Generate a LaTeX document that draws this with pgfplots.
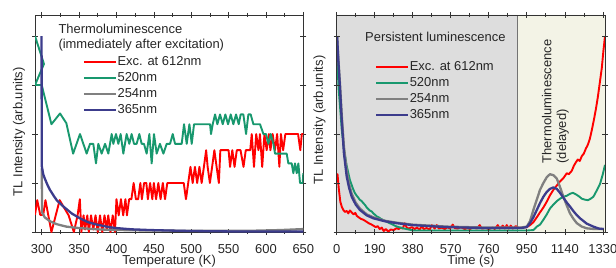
\documentclass[border=0pt]{standalone}
\usepackage{fontspec}
\setmainfont{Liberation Sans}
\usepackage{pgfplots}
\pgfplotsset{compat=1.18}
\definecolor{cred}{RGB}{255,0,0}
\definecolor{cgreen}{RGB}{24,152,110}
\definecolor{cgray}{RGB}{128,128,128}
\definecolor{cnavy}{RGB}{60,60,140}
\definecolor{bggray}{RGB}{221,221,221}
\definecolor{bgbeige}{RGB}{243,243,230}
\pgfplotsset{
  myaxis/.style={
    scale only axis, width=268.3bp, height=217bp, anchor=south west,
    ymin=0, ymax=4.43, ytick={0,1,2,3,4}, yticklabels={},
    axis line style={black!80, line width=0.6bp},
    every tick/.style={black!80, line width=0.6bp},
    tick align=center, major tick length=6bp, minor tick length=4bp,
    minor x tick num=1,
    /pgf/number format/assume math mode=true,
    /pgf/number format/1000 sep={},
    xticklabel style={anchor=base, yshift=-18bp, text=black!85},
    xlabel style={at={(axis description cs:0.5,0)}, anchor=base, yshift=-32.5bp, text=black!85},
    ylabel style={rotate=0, anchor=base, text=black!85},
    clip=true,
    legend cell align=left,
  },
  redl/.style={cred, line width=1.9bp, line join=round},
  greenl/.style={cgreen, line width=1.9bp, line join=round},
  grayl/.style={cgray, line width=2.3bp, line join=round},
  navyl/.style={cnavy, line width=2.3bp, line join=round},
}
\begin{document}
\begin{tikzpicture}[x=1bp,y=1bp,font=\fontsize{13}{15}\selectfont]
\begin{axis}[myaxis, at={(35bp,35bp)},
  xmin=291, xmax=650, xtick={300,350,...,650},
  xlabel={Temperature (K)}, ylabel={TL Intensity (arb.units)},
  ylabel style={at={(axis description cs:-0.047,0.462)}},
  legend image code/.code={\draw[#1] (0bp,0bp) -- (32bp,0bp);},
  legend style={draw=none, fill=none, inner sep=0pt, outer sep=0pt, column sep=0pt, row sep=0pt,
    at={(axis description cs:0.178,0.8217)}, anchor=north west,
    nodes={inner xsep=0.5bp, inner ysep=2bp, text height=9.5bp, text depth=2.5bp, text=black!85}},
]
\addplot[redl] coordinates {
(291,0.35)(294,0.65)(298,0.35)(302,0.35)(305,0.65)(313,0.0)(324,0.65)(336,0.34)(343,0.0)(348,0.34)(351,0.67)(353,0.0)(356,0.34)(358,0.05)(361,0.34)(363,0.0)(366,0.34)(369,0.05)(372,0.34)(375,0.0)(378,0.34)(381,0.0)(384,0.34)(387,0.05)(389,0.34)(392,0.0)(395,0.34)(398,0.0)(400,0.67)(403,0.34)(406,0.67)(409,0.34)(412,0.67)(414,0.34)(417,0.67)(420,0.67)(423,1.0)(426,0.67)(429,0.67)(432,1.0)(434,0.67)(437,1.0)(440,1.0)(442,0.67)(445,1.0)(448,0.67)(450,1.0)(453,0.67)(456,1.0)(459,0.67)(462,1.0)(465,0.67)(468,1.0)(475,1.0)(485,1.0)(490,1.0)(493,0.67)(496,1.0)(499,1.33)(502,1.0)(505,1.33)(508,1.0)(511,1.33)(514,1.0)(517,1.33)(520,1.67)(522,1.33)(525,1.0)(528,1.33)(531,1.67)(534,1.33)(537,1.0)(539,1.67)(550,1.67)(552,1.33)(555,1.67)(558,1.33)(561,1.67)(566,1.67)(570,1.33)(573,1.67)(579,1.67)(581,2.0)(584,1.33)(587,2.0)(590,1.67)(592,2.0)(595,1.33)(598,2.0)(601,1.67)(604,2.0)(606,1.67)(609,2.0)(612,1.67)(615,2.0)(618,1.33)(620,2.0)(623,1.67)(626,2.0)(629,2.0)(632,2.0)(636,2.0)(640,2.0)(643,2.0)(646,1.67)(648,2.0)(650,2.0)
};
\addlegendentry{Exc. at 612nm}
\addplot[greenl] coordinates {
(291,4.0)(303,3.43)(291,3.0)(300,3.0)(313,2.2)(324.5,2.42)(333,2.22)(342,1.6)(351.2,2.0)(355.7,1.8)(360.1,1.6)(364.6,1.8)(369,1.8)(372.6,1.4)(375.7,1.8)(380.2,1.6)(384.7,1.8)(389.1,1.6)(393.6,2.0)(395.8,1.8)(399.4,2.0)(402.5,1.8)(405.6,2.0)(409.2,1.6)(413.6,2.0)(417.2,1.8)(420.3,2.0)(423.5,1.8)(427,1.8)(430.6,2.0)(433.7,1.8)(436.8,1.8)(440.4,1.6)(444,2.0)(447.1,1.4)(450.2,2.0)(453.8,1.6)(458.2,1.8)(462.8,1.6)(467.2,1.8)(471.7,1.8)(475.3,2.0)(478.4,1.8)(487.3,1.8)(490.4,2.2)(494,1.8)(497.6,2.2)(500.7,1.8)(503.8,2.2)(507.4,2.2)(525.2,2.2)(526.5,2.0)(528.8,2.2)(531.9,2.4)(535,2.2)(538.6,2.4)(542.2,2.2)(545.7,2.4)(549.3,2.2)(552.9,2.4)(556.4,2.2)(560,2.4)(563.6,2.2)(566.2,2.4)(569.8,2.4)(573.4,2.0)(576.5,2.4)(579.6,2.4)(583.2,2.2)(592.1,2.2)(596.6,2.0)(600.1,2.0)(603.3,1.8)(606.4,2.0)(610,1.8)(612.2,1.6)(627.8,1.6)(630,1.4)(634.5,1.4)(636.7,1.2)(638.9,1.4)(641.2,1.2)(643.4,1.4)(645.6,1.0)(649.2,1.0)(650,1.2)
};
\addlegendentry{520nm}
\addplot[grayl] coordinates {
(300,1.3)(300.5,0.4)(304,0.3)(311,0.22)(320,0.16)(333,0.11)(350,0.08)(380,0.05)(420,0.035)(500,0.025)(580,0.025)(620,0.04)(650,0.06)
};
\addlegendentry{254nm}
\addplot[navyl] coordinates {
(299.8,4.0)(300,1.35)(302,1.18)(304.4,1.08)(308,0.95)(311,0.86)(316,0.74)(320,0.65)(329,0.52)(340,0.38)(351,0.28)(362,0.2)(374,0.15)(390,0.1)(400,0.08)(420,0.055)(445,0.04)(470,0.03)(500,0.02)(550,0.012)(600,0.01)(650,0.01)
};
\addlegendentry{365nm}
\node[anchor=base west, text=black!85] at (axis description cs:0.0745,0.915) {Thermoluminescence};
\node[anchor=base west, text=black!85] at (axis description cs:0.0745,0.847) {(immediately after excitation)};
\end{axis}

\begin{axis}[myaxis, at={(336.7bp,35bp)}, axis on top,
  xmin=0, xmax=1341, xtick={0,190,...,1330},
  xlabel={Time (s)}, ylabel={TL Intensity (arb.units)},
  ylabel style={at={(axis description cs:-0.052,0.516)}},
  legend image code/.code={\draw[#1] (0bp,0bp) -- (32bp,0bp);},
  legend style={draw=none, fill=none, inner sep=0pt, outer sep=0pt, column sep=0pt, row sep=0pt,
    at={(axis description cs:0.1427,0.7986)}, anchor=north west,
    nodes={inner xsep=0.5bp, inner ysep=2bp, text height=9.5bp, text depth=2.5bp, text=black!85}},
]
\addplot[fill=bggray, draw=none, forget plot] coordinates {(0,0)(902,0)(902,4.43)(0,4.43)} \closedcycle;
\addplot[fill=bgbeige, draw=none, forget plot] coordinates {(902,0)(1341,0)(1341,4.43)(902,4.43)} \closedcycle;
\addplot[black!55, line width=0.8bp, forget plot] coordinates {(902,0)(902,4.43)};
\addplot[redl] coordinates {
(0,1.1)(4,1.18)(10,0.9)(18,0.62)(25,0.52)(33,0.45)(41,0.41)(50,0.43)(58,0.38)(66,0.44)(75,0.4)(85,0.36)(93,0.39)(100,0.33)(110,0.3)(120,0.27)(133,0.25)(145,0.22)(160,0.18)(175,0.15)(183,0.13)(195,0.1)(205,0.12)(215,0.06)(225,0.09)(235,0.02)(245,0.06)(258,0.01)(270,0.05)(285,0.04)(300,0.08)(310,0.06)(320,0.09)(330,0.07)(340,0.18)(350,0.09)(360,0.07)(375,0.1)(390,0.06)(400,0.09)(415,0.05)(425,0.12)(435,0.06)(450,0.08)(465,0.05)(475,0.14)(490,0.07)(500,0.14)(510,0.07)(525,0.09)(540,0.06)(555,0.1)(565,0.07)(580,0.15)(590,0.08)(605,0.07)(620,0.1)(640,0.06)(655,0.08)(665,0.06)(680,0.09)(700,0.07)(715,0.14)(725,0.07)(745,0.08)(760,0.06)(780,0.09)(790,0.06)(805,0.14)(815,0.07)(830,0.13)(840,0.07)(850,0.14)(860,0.07)(870,0.13)(880,0.07)(895,0.12)(910,0.08)(930,0.09)(950,0.1)(966,0.14)(983,0.2)(1000,0.3)(1016,0.4)(1033,0.5)(1050,0.62)(1066,0.75)(1083,0.86)(1100,0.95)(1116,1.03)(1133,1.1)(1150,1.2)(1160,1.18)(1175,1.25)(1185,1.35)(1195,1.42)(1205,1.48)(1215,1.45)(1225,1.55)(1235,1.6)(1245,1.7)(1255,1.78)(1265,1.9)(1275,2.08)(1285,2.28)(1295,2.5)(1305,2.75)(1315,3.05)(1325,3.35)(1333,3.7)(1341,4.0)
};
\addlegendentry{Exc. at 612nm}
\addplot[greenl] coordinates {
(0,3.8)(5,3.3)(10,2.9)(16,2.6)(25,2.1)(36,1.7)(50,1.35)(66,1.06)(80,0.9)(90,0.8)(100,0.74)(108,0.7)(115,0.66)(125,0.63)(133,0.59)(142,0.55)(150,0.5)(158,0.47)(165,0.44)(175,0.42)(183,0.38)(192,0.35)(200,0.32)(210,0.3)(220,0.27)(235,0.24)(250,0.21)(265,0.18)(280,0.15)(295,0.12)(310,0.1)(333,0.075)(360,0.05)(383,0.03)(450,0.03)(550,0.03)(650,0.03)(750,0.03)(850,0.03)(950,0.03)(983,0.04)(1000,0.11)(1016,0.15)(1033,0.25)(1050,0.36)(1066,0.48)(1083,0.56)(1100,0.63)(1116,0.68)(1133,0.72)(1150,0.74)(1166,0.78)(1180,0.8)(1195,0.77)(1210,0.73)(1225,0.68)(1240,0.66)(1255,0.65)(1266,0.67)(1283,0.72)(1300,0.85)(1316,0.98)(1330,1.18)(1341,1.37)
};
\addlegendentry{520nm}
\addplot[grayl] coordinates {
(2,4.0)(8,3.55)(16,3.05)(25,2.4)(36,1.75)(50,1.25)(62,0.98)(75,0.78)(95,0.6)(116,0.48)(150,0.36)(183,0.3)(240,0.23)(300,0.19)(380,0.15)(466,0.13)(550,0.11)(650,0.1)(750,0.09)(850,0.09)(920,0.09)(950,0.11)(966,0.22)(983,0.45)(1000,0.66)(1016,0.86)(1033,1.0)(1050,1.12)(1066,1.18)(1083,1.16)(1100,1.09)(1116,0.92)(1133,0.72)(1150,0.54)(1166,0.38)(1183,0.27)(1200,0.18)(1225,0.11)(1250,0.075)(1290,0.06)(1335,0.06)
};
\addlegendentry{254nm}
\addplot[navyl] coordinates {
(2,4.0)(8,3.5)(16,2.97)(25,2.29)(36,1.61)(50,1.13)(62,0.9)(75,0.72)(95,0.56)(116,0.45)(150,0.34)(183,0.28)(240,0.22)(300,0.18)(380,0.14)(466,0.12)(550,0.1)(650,0.09)(750,0.08)(850,0.08)(920,0.08)(950,0.1)(966,0.18)(983,0.3)(1000,0.45)(1016,0.59)(1033,0.72)(1050,0.82)(1066,0.88)(1083,0.91)(1100,0.88)(1116,0.8)(1133,0.7)(1150,0.6)(1166,0.52)(1190,0.39)(1216,0.28)(1250,0.17)(1283,0.11)(1310,0.07)(1335,0.06)
};
\addlegendentry{365nm}
\node[anchor=base west, text=black!85] at (axis description cs:0.093,0.876) {Persistent luminescence};
\node[rotate=90, anchor=base west, text=black!85] at (axis description cs:0.80,0.30) {Thermoluminescence};
\node[rotate=90, anchor=base west, text=black!85] at (axis description cs:0.855,0.30) {(delayed)};
\end{axis}
\pgfresetboundingbox
\path[use as bounding box] (0,0) rectangle (616,267);
\end{tikzpicture}
\end{document}
